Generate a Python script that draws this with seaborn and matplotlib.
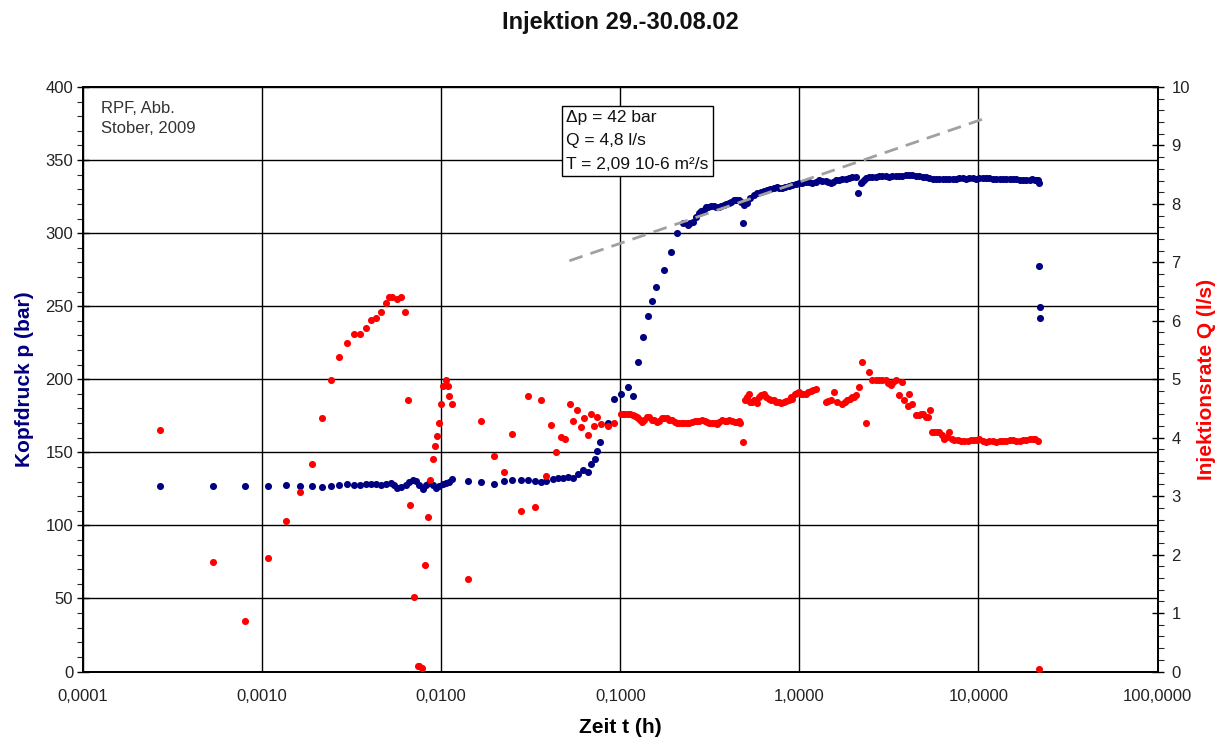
import numpy as np
import matplotlib
matplotlib.use("Agg")
import matplotlib.pyplot as plt
from matplotlib.ticker import MultipleLocator, NullLocator
import seaborn as sns

# --- measured data -------------------------------------------------------
# wellhead pressure p (bar) over time t (h)
t_pressure = [
    0.000269, 0.000535, 0.000805, 0.001076, 0.001352, 0.001626, 0.00189, 0.00217,
    0.00242, 0.00269, 0.00297, 0.00327, 0.00352, 0.00379, 0.00405, 0.00432,
    0.00460, 0.00491, 0.00524, 0.00547, 0.00570, 0.00596, 0.00636, 0.00664,
    0.00692, 0.00722, 0.00755, 0.00787, 0.00822, 0.00859, 0.00895, 0.00935,
    0.00977, 0.0102, 0.01064, 0.01112, 0.01146, 0.01406,
    0.0167, 0.01968, 0.0224, 0.0248, 0.0278, 0.0306, 0.0333, 0.0362, 0.0386,
    0.0422, 0.0450, 0.0480, 0.0512, 0.0546, 0.0582, 0.0621, 0.0662, 0.0690,
    0.0721, 0.0746, 0.0769, 0.0857, 0.0925, 0.1009, 0.1099, 0.1183,
    0.126, 0.1346, 0.1422, 0.1510, 0.1592, 0.175, 0.1914, 0.208, 0.2255, 0.238,
    0.2564, 0.2735, 0.2917, 0.311, 0.332, 0.354, 0.378, 0.403, 0.430, 0.458,
    0.484, 0.489, 0.511, 0.556, 0.607, 0.661, 0.720,
    0.767, 0.837, 0.912, 0.994, 1.083, 1.18, 1.286, 1.402, 1.495, 1.594, 1.738,
    1.894, 2.064, 2.137, 2.203, 2.298, 2.449, 2.672, 2.911, 3.17, 3.459, 3.767,
    4.10, 4.477, 4.875, 5.31, 5.79, 6.31, 6.87, 7.50, 8.17, 8.91, 9.70, 10.57,
    11.53, 12.56, 13.68, 14.92, 16.26, 17.72, 19.31, 20.6, 21.5, 21.8,
    21.8, 21.98, 22.1,
    0.2453, 0.2654, 0.2831, 0.302, 0.322, 0.342, 0.366, 0.389, 0.417, 0.443,
    0.474, 0.533, 0.580, 0.632, 0.690, 0.751,
    0.802, 0.873, 0.952, 1.037, 1.130, 1.232, 1.343, 1.45, 1.546, 1.664, 1.815,
    1.977, 2.25, 2.367,
    2.557, 2.789, 3.04, 3.31, 3.61, 3.93, 4.28, 4.67, 5.09, 5.55, 6.04, 6.59,
    7.18, 7.83, 8.53, 9.29, 10.13, 11.04, 12.03, 13.12, 14.29, 15.57, 16.98,
    18.49, 19.99, 21.0,
]
pressure = [
    126.9, 126.7, 126.9, 126.9, 127.4, 126.9, 126.9, 126.2,
    127.2, 127.6, 128.1, 127.8, 127.8, 128.1, 128.1, 128.5,
    127.8, 128.5, 129.2, 127.8, 125.8, 126.2, 127.4, 129.7,
    130.8, 130.4, 127.4, 125.1, 127.4, 129.0, 127.4, 125.8,
    126.7, 128.5, 129.0, 129.7, 131.5, 130.4,
    129.7, 128.1, 130.4, 130.8, 130.8, 130.8, 130.1, 129.7, 130.1,
    132.0, 132.4, 132.6, 133.1, 132.6, 135.4, 138.1, 136.5, 142.2,
    145.7, 150.9, 157.1, 170.1, 186.7, 190.2, 194.7, 188.4,
    211.9, 229.0, 243.1, 253.6, 263.2, 275.1, 287.4, 299.8, 306.6, 305.5,
    307.7, 313.5, 315.7, 318.0, 318.5, 318.0, 319.2, 320.3, 323.0, 322.6,
    306.6, 319.2, 320.8, 326.0, 328.3, 329.4, 330.6,
    330.6, 331.7, 332.9, 334.0, 335.1, 334.0, 336.3, 335.8, 334.0, 336.3, 336.7,
    337.4, 338.6, 327.2, 334.0, 336.3, 338.1, 338.6, 339.1, 338.6, 339.1, 339.3,
    339.8, 339.3, 338.6, 337.4, 336.9, 336.9, 336.7, 337.2, 337.4, 337.4, 337.2, 337.6,
    337.4, 336.9, 336.7, 336.7, 336.7, 336.3, 336.3, 336.3, 336.3, 334.0,
    277.4, 249.5, 242.2,
    306.6, 311.2, 315.0, 317.6, 318.5, 318.0, 318.5, 319.9, 321.5, 323.0,
    321.5, 323.8, 327.2, 328.8, 329.9, 331.3,
    331.0, 332.2, 333.5, 334.5, 335.0, 335.1, 335.8, 335.1, 335.1, 336.3, 337.2,
    338.1, 335.1, 337.4,
    338.6, 338.8, 339.1, 338.8, 339.3, 339.6, 339.6, 339.1, 338.1, 337.2, 336.9, 336.7,
    336.9, 337.4, 337.2, 337.4, 337.4, 337.6, 337.2, 336.7, 336.9, 336.7, 336.5,
    336.3, 336.7, 336.5,
]

# injection rate Q (l/s) over time t (h)
t_rate = [
    0.000269, 0.000535, 0.000805, 0.001076, 0.001352, 0.001626, 0.00189, 0.00217,
    0.00242, 0.00269, 0.00297, 0.00324, 0.00352, 0.00379, 0.00405, 0.00432,
    0.00460, 0.00491, 0.00513, 0.00534, 0.00570, 0.00596, 0.00627, 0.00649,
    0.00671, 0.00708, 0.00738, 0.00755, 0.00778, 0.00811, 0.00839, 0.00865,
    0.00895, 0.00922, 0.00948, 0.00969, 0.00997, 0.01028, 0.01064, 0.01087,
    0.01112, 0.01146, 0.01406,
    0.0167, 0.01968, 0.0224, 0.0248, 0.0278, 0.0306, 0.0333, 0.0360, 0.0386,
    0.0412, 0.0440, 0.0466, 0.0494, 0.0522, 0.0546, 0.0577, 0.0607, 0.0628,
    0.0662, 0.0686, 0.0714, 0.0746, 0.0785, 0.0849, 0.0925,
    0.1009, 0.1062, 0.1133, 0.1208, 0.126, 0.1328, 0.1403, 0.1497, 0.1597,
    0.1703, 0.1817, 0.1938, 0.2067, 0.2206, 0.2353, 0.2510, 0.2677, 0.2856,
    0.3046, 0.3250, 0.3466, 0.3697, 0.3944, 0.4207, 0.4487, 0.468, 0.484,
    0.500, 0.521, 0.544, 0.568, 0.593, 0.632, 0.675, 0.720, 0.767, 0.818,
    0.873, 0.912, 0.972, 1.016, 1.083, 1.155, 1.232,
    1.402, 1.495, 1.560, 1.629, 1.738, 1.854, 1.977, 2.081, 2.155, 2.25, 2.367,
    2.449, 2.557, 2.789, 3.04, 3.24, 3.459, 3.61, 3.767, 3.85, 4.02, 4.10, 4.28,
    4.477, 4.773, 5.09, 5.36, 5.67, 6.04, 6.45, 6.87, 7.34, 8.00, 8.71, 9.50,
    10.13, 11.04, 12.03, 13.12, 14.29, 15.57, 16.98, 18.49, 20.15, 21.5, 21.8,
    0.1030, 0.1099, 0.1172, 0.1234, 0.1294, 0.1362, 0.1448, 0.155, 0.1647,
    0.1763, 0.1875, 0.2009, 0.2133, 0.2284, 0.2427, 0.26, 0.2761, 0.2956,
    0.3141, 0.3365, 0.3573, 0.3828, 0.4064, 0.4355, 0.458,
    0.5105, 0.533, 0.556, 0.580, 0.614, 0.652, 0.698, 0.741, 0.795, 0.843,
    0.893, 0.944, 0.994, 1.047, 1.12, 1.19,
    1.45, 1.80, 1.91, 2.03, 2.672, 2.911, 3.14, 3.34,
    4.63, 4.92, 5.23, 5.51, 5.85, 6.26, 6.65, 7.13, 7.66, 8.35, 9.10, 9.79,
    10.57, 11.53, 12.56, 13.68, 14.92, 16.26, 17.72, 19.31, 20.8,
]
rate = [
    4.14, 1.88, 0.87, 1.94, 2.57, 3.07, 3.55, 4.33,
    4.99, 5.38, 5.62, 5.77, 5.77, 5.87, 6.02, 6.04,
    6.15, 6.30, 6.41, 6.41, 6.38, 6.40, 6.15, 4.65,
    2.85, 1.27, 0.10, 0.09, 0.06, 1.83, 2.64, 3.27,
    3.64, 3.85, 4.03, 4.25, 4.57, 4.89, 4.99, 4.89,
    4.71, 4.57, 1.59,
    4.29, 3.68, 3.41, 4.07, 2.74, 4.71, 2.81, 4.64, 3.34,
    4.21, 3.76, 4.01, 3.97, 4.57, 4.29, 4.47, 4.18, 4.33,
    4.04, 4.41, 4.20, 4.36, 4.24, 4.20, 4.25,
    4.41, 4.41, 4.41, 4.37, 4.33, 4.27, 4.36, 4.31, 4.27,
    4.33, 4.33, 4.30, 4.25, 4.25, 4.25, 4.27, 4.29, 4.30,
    4.27, 4.25, 4.24, 4.30, 4.29, 4.29, 4.27, 4.25, 3.93,
    4.64, 4.74, 4.61, 4.63, 4.70, 4.74, 4.67, 4.65, 4.61, 4.61,
    4.64, 4.67, 4.77, 4.75, 4.75, 4.80, 4.84,
    4.61, 4.65, 4.78, 4.61, 4.58, 4.65, 4.69, 4.73, 4.87, 5.30, 4.25,
    5.13, 4.98, 4.98, 4.99, 4.90, 4.99, 4.73, 4.95, 4.65, 4.55, 4.75, 4.58,
    4.38, 4.41, 4.36, 4.47, 4.10, 4.10, 3.98, 4.10, 3.96, 3.94, 3.94, 3.96,
    3.98, 3.93, 3.94, 3.94, 3.94, 3.96, 3.94, 3.96, 3.97, 3.94, 0.05,
    4.41, 4.41, 4.39, 4.36, 4.30, 4.30, 4.36, 4.30, 4.29,
    4.33, 4.31, 4.27, 4.25, 4.25, 4.26, 4.28, 4.29, 4.29,
    4.26, 4.25, 4.27, 4.29, 4.30, 4.27, 4.29,
    4.70, 4.61, 4.64, 4.60, 4.73, 4.70, 4.65, 4.61, 4.60, 4.63,
    4.70, 4.74, 4.78, 4.74, 4.78, 4.82,
    4.63, 4.61, 4.67, 4.70, 4.98, 4.98, 4.93, 4.96,
    4.38, 4.41, 4.36, 4.10, 4.10, 4.04, 4.01, 3.98, 3.96, 3.94, 3.96, 3.96,
    3.94, 3.94, 3.93, 3.94, 3.96, 3.94, 3.96, 3.97, 3.97,
]

# semi-log straight-line fit of the pressure build-up
dp_per_decade = 42.0        # bar per log cycle
p_at_1h = 335.0             # bar
fit_t_range = [0.052, 11.5]

x_ticks = [0.0001, 0.001, 0.01, 0.1, 1, 10, 100]
x_tick_labels = ["0,0001", "0,0010", "0,0100", "0,1000", "1,0000", "10,0000", "100,0000"]

title = "Injektion 29.-30.08.02"
info_text = "\u0394p = 42 bar\nQ = 4,8 l/s\nT = 2,09 10-6 m\u00b2/s"
source_text = "RPF, Abb.\nStober, 2009"

# --- styling -------------------------------------------------------------
sns.set_style("white")
plt.rcParams["font.family"] = ["Liberation Sans", "DejaVu Sans"]

navy = "#000080"
red = "#ff0000"
tick_color = "#222222"

W, H = 1228, 742
fig = plt.figure(figsize=(W / 100, H / 100), dpi=100)
left_px, right_px, top_px, bottom_px = 83, 1157.5, 87, 671.5
ax = fig.add_axes([left_px / W, 1 - bottom_px / H,
                   (right_px - left_px) / W, (bottom_px - top_px) / H])
ax.set_xscale("log")
ax2 = ax.twinx()

# pressure (left axis)
sns.scatterplot(x=t_pressure, y=pressure, ax=ax, color=navy, s=26,
                linewidth=0, zorder=3)

# straight-line fit drawn from the slope quoted in the info box
fit_t = np.array(fit_t_range)
fit_p = p_at_1h + dp_per_decade * np.log10(fit_t)
sns.lineplot(x=fit_t, y=fit_p, ax=ax, color="#a0a0a0", linewidth=2,
             linestyle=(0, (5, 3)), zorder=4, sort=False)

# injection rate (right axis)
sns.scatterplot(x=t_rate, y=rate, ax=ax2, color=red, s=26, linewidth=0, zorder=3)

# axes limits and ticks
ax.set_xlim(1e-4, 100)
ax.set_ylim(0, 400)
ax2.set_ylim(0, 10)
ax.set_xticks(x_ticks, x_tick_labels)
ax.xaxis.set_minor_locator(NullLocator())
ax.yaxis.set_major_locator(MultipleLocator(50))
ax.yaxis.set_minor_locator(MultipleLocator(10))
ax2.yaxis.set_major_locator(MultipleLocator(1))
ax2.yaxis.set_minor_locator(MultipleLocator(0.2))

ax.grid(True, which="major", color="black", linewidth=1.0, zorder=0)
ax2.grid(False)

ax.tick_params(axis="x", which="major", direction="inout", length=7, width=1.0,
               labelsize=12, pad=9, colors="black", labelcolor=tick_color)
ax.tick_params(axis="y", which="major", direction="inout", length=8, width=1.0,
               labelsize=12, pad=3, colors="black", labelcolor=tick_color,
               left=True)
ax.tick_params(axis="y", which="minor", direction="out", length=4, width=0.8,
               left=True)
ax2.tick_params(axis="y", which="major", direction="inout", length=8, width=1.0,
                labelsize=12, pad=6, colors="black", labelcolor=tick_color,
                right=True)
ax2.tick_params(axis="y", which="minor", direction="out", length=4, width=0.8,
                right=True)

for a in (ax, ax2):
    for sp in a.spines.values():
        sp.set_color("black")
        sp.set_linewidth(1.3)

# labels
ax.set_xlabel("Zeit t (h)", fontsize=15, fontweight="bold", color="black")
ax.xaxis.set_label_coords(0.4997, -(718 - bottom_px) / (bottom_px - top_px))
ax.set_ylabel("Kopfdruck p (bar)", fontsize=15, fontweight="bold", color=navy)
ax.yaxis.set_label_coords((34 - left_px) / (right_px - left_px), 0.5)
ax2.set_ylabel("Injektionsrate Q (l/s)", fontsize=15, fontweight="bold", color=red)
ax2.yaxis.set_label_coords((1197 - left_px) / (right_px - left_px), 0.5)

fig.text(620 / W, 1 - 23 / H, title, ha="center", va="center",
         fontsize=17, fontweight="bold", color="#111111")

ax.text((566 - left_px) / (right_px - left_px), (bottom_px - 110) / (bottom_px - top_px),
        info_text, transform=ax.transAxes, ha="left", va="top", fontsize=12.5,
        linespacing=1.7, color="#111111", zorder=6,
        bbox=dict(boxstyle="square,pad=0.25", facecolor="white",
                  edgecolor="black", linewidth=1.0))
ax.text((101 - left_px) / (right_px - left_px), (bottom_px - 101) / (bottom_px - top_px),
        source_text, transform=ax.transAxes, ha="left", va="top", fontsize=12,
        linespacing=1.4, color="#333333", zorder=6)

fig.savefig("out.png", dpi=100, facecolor="white")
